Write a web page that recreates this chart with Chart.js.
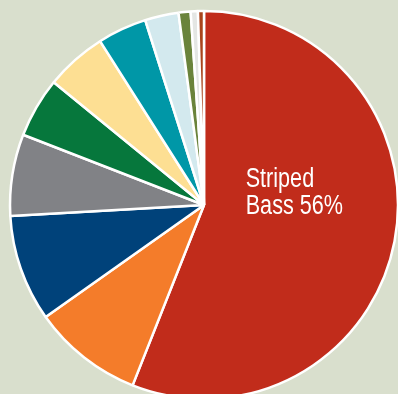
<!DOCTYPE html>
<html>
<head>
<meta charset="utf-8">
<script src="https://cdn.jsdelivr.net/npm/chart.js@4/dist/chart.umd.min.js"></script>
<style>
html,body{margin:0;padding:0;background:#d9dfcd;overflow:hidden;width:398px;height:394px;}
#c{position:absolute;left:0;top:0;}
</style>
</head>
<body>
<canvas id="c" width="408" height="410"></canvas>
<script>
const categories = ["Striped Bass","Species B","Species C","Species D","Species E","Species F","Species G","Species H","Species I","Species J","Species K"];
const shares = [56, 9.2, 8.9, 6.8, 5.0, 5.1, 4.1, 2.8, 1.0, 0.6, 0.5];
const colors = ["#c12c1b","#f47c2a","#00427a","#818286","#06773c","#fddf93","#0097a7","#d3e9ee","#6a833b","#e4e6e4","#a9441c"];
const labelLines = ["Striped", "Bass 56%"];

const labelPlugin = {
  id: 'sliceLabel',
  afterDatasetsDraw(chart) {
    const arc = chart.getDatasetMeta(0).data[0];
    const R = arc.outerRadius;
    const ctx = chart.ctx;
    ctx.save();
    ctx.fillStyle = '#ffffff';
    ctx.font = '27px "Liberation Sans", Arial, sans-serif';
    ctx.textAlign = 'left';
    ctx.textBaseline = 'alphabetic';
    const x = arc.x + 0.215 * R;
    ctx.translate(x, arc.y);
    ctx.scale(0.8, 1);
    ctx.fillText(labelLines[0], 0, -0.095 * R);
    ctx.fillText(labelLines[1], 0, 0.045 * R);
    ctx.restore();
  }
};

new Chart(document.getElementById('c'), {
  type: 'pie',
  data: {
    labels: categories,
    datasets: [{
      data: shares,
      backgroundColor: colors,
      borderColor: '#ffffff',
      borderWidth: 2.5
    }]
  },
  options: {
    responsive: false,
    animation: false,
    devicePixelRatio: 1,
    radius: 194,
    layout: { padding: 0 },
    plugins: { legend: { display: false }, tooltip: { enabled: false } }
  },
  plugins: [labelPlugin]
});
</script>
</body>
</html>
